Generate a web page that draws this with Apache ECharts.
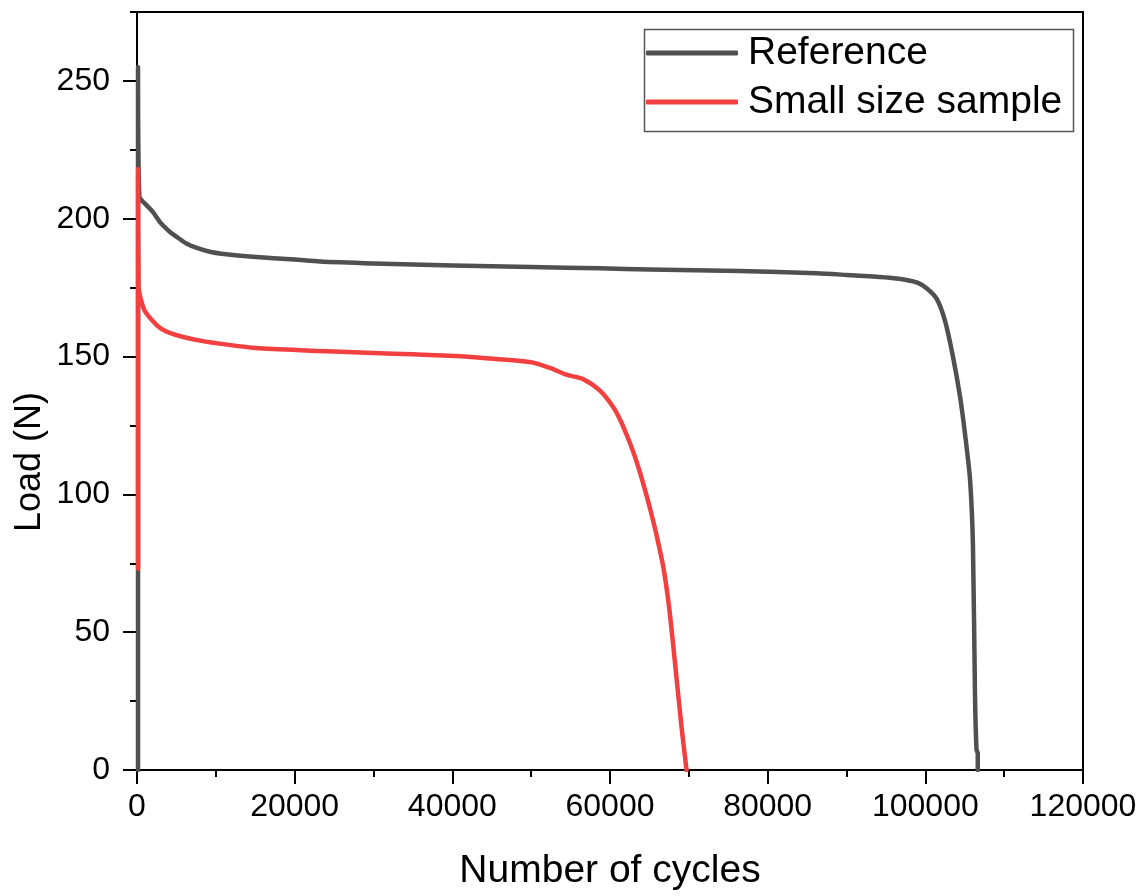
<!DOCTYPE html>
<html>
<head>
<meta charset="utf-8">
<script src="https://cdn.jsdelivr.net/npm/echarts@6/dist/echarts.min.js"></script>
<style>html,body{margin:0;padding:0;background:#fff;overflow:hidden;}#c{width:1144px;height:896px;}</style>
</head>
<body>
<div id="c"></div>
<script>
var FONT = 'Arial, "Liberation Sans", sans-serif';
var seriesNames = ['Reference', 'Small size sample'];
var xTicks = [0, 20000, 40000, 60000, 80000, 100000, 120000];
var yTicks = [0, 50, 100, 150, 200, 250];
var yMinorTicks = [25, 75, 125, 175, 225, 275];

var refCycles = [130, 130, 300, 1000, 2030, 3000, 4150, 5000, 6270, 7500, 9220, 11000, 14690, 20000, 23190, 30000, 40000, 50000, 58700, 65000, 76500, 86200, 90000, 93400, 96000, 97600, 99000, 100160, 101430, 102490, 103500, 104400, 105030, 105670, 106040, 106300, 106490, 106650, 106650];
var refLoad =   [0, 255, 208, 205.5, 202.4, 198.5, 195.3, 193.5, 191, 189.5, 188, 187.2, 186.2, 185.2, 184.5, 183.8, 183, 182.5, 182, 181.6, 181, 180.2, 179.6, 179, 178.4, 177.8, 176.8, 174.8, 171, 163, 150, 135.5, 122, 105.4, 81.3, 27, 7.5, 6, 0];

var smallCycles = [140, 140, 200, 560, 1000, 2030, 3000, 4150, 6000, 8380, 11000, 14720, 20680, 25000, 30000, 35000, 40530, 46000, 50250, 52790, 54480, 56590, 58700, 60400, 61300, 62200, 63000, 63800, 64500, 65200, 66000, 66800, 67500, 68230, 69080, 69710];
var smallLoad =   [73, 218, 175, 170, 166.5, 162.8, 160.2, 158.6, 157, 155.6, 154.5, 153.2, 152.3, 151.8, 151.3, 150.8, 150.2, 149, 147.8, 145.4, 143.4, 141.8, 137.7, 131.7, 127, 121, 115, 108, 101, 93.5, 84, 73, 59, 39.3, 15.4, 0];

function pairs(xs, ys) { return xs.map(function (x, i) { return [x, ys[i]]; }); }

var chart = echarts.init(document.getElementById('c'), null, { width: 1144, height: 896 });
var axisLineStyle = { color: '#000', width: 2 };
chart.setOption({
  animation: false,
  backgroundColor: '#fff',
  textStyle: { fontFamily: FONT },
  grid: { left: 137, width: 946, top: 12, height: 764, containLabel: false },
  xAxis: [{
    type: 'value', min: 0, max: 120000, interval: 20000, position: 'bottom',
    name: 'Number of cycles', nameLocation: 'middle', nameGap: 82,
    nameTextStyle: { fontSize: 39, fontFamily: FONT, color: '#000' },
    axisLine: { show: true, onZero: false, lineStyle: axisLineStyle },
    axisTick: { show: true, inside: false, length: 14, lineStyle: { color: '#000', width: 2 }, customValues: xTicks },
    minorTick: { show: true, splitNumber: 2, length: 7, lineStyle: { color: '#000', width: 2 } },
    axisLabel: { fontSize: 32, fontFamily: FONT, color: '#000', margin: 21, customValues: xTicks,
      formatter: function (v) { return String(v); } },
    splitLine: { show: false }
  }, {
    type: 'value', min: 0, max: 120000, position: 'top',
    axisLine: { show: true, onZero: false, lineStyle: axisLineStyle },
    axisTick: { show: false }, axisLabel: { show: false }, splitLine: { show: false }
  }],
  yAxis: [{
    type: 'value', min: 0, max: 275, interval: 50, position: 'left',
    axisLine: { show: true, onZero: false, lineStyle: axisLineStyle },
    axisTick: { show: true, length: 14, lineStyle: { color: '#000', width: 2 }, customValues: yTicks },
    axisLabel: { fontSize: 32, fontFamily: FONT, color: '#000', margin: 27, customValues: yTicks,
      formatter: function (v) { return String(v); } },
    splitLine: { show: false }
  }, {
    type: 'value', min: 0, max: 275, position: 'left',
    axisLine: { show: false },
    axisTick: { show: true, length: 7, lineStyle: { color: '#000', width: 2 }, customValues: yMinorTicks },
    axisLabel: { show: false }, splitLine: { show: false }
  }, {
    type: 'value', min: 0, max: 275, position: 'right',
    axisLine: { show: true, onZero: false, lineStyle: axisLineStyle },
    axisTick: { show: false }, axisLabel: { show: false }, splitLine: { show: false }
  }],
  legend: {
    orient: 'vertical', left: 646, top: 33, padding: 0,
    icon: 'roundRect', itemWidth: 92, itemHeight: 5, itemGap: 9,
    textStyle: { fontSize: 39, fontFamily: FONT, color: '#000', lineHeight: 40, padding: [0, 0, 0, 5] },
    data: seriesNames
  },
  graphic: [{
    type: 'rect', left: 642, top: 27, z: 100, silent: true,
    shape: { width: 429, height: 102 },
    style: { fill: 'none', stroke: '#555', lineWidth: 1.5 }
  }, {
    type: 'text', x: 30, y: 462, rotation: Math.PI / 2, silent: true,
    style: { text: 'Load (N)', font: '36px ' + FONT, fill: '#000', textAlign: 'center', textVerticalAlign: 'middle' }
  }],
  series: [{
    name: seriesNames[0], type: 'line', xAxisIndex: 0, yAxisIndex: 0,
    data: pairs(refCycles, refLoad), showSymbol: false, symbol: 'none', smooth: 0.25,
    lineStyle: { color: '#505050', width: 4.5, cap: 'round', join: 'round' },
    itemStyle: { color: '#505050' }
  }, {
    name: seriesNames[1], type: 'line', xAxisIndex: 0, yAxisIndex: 0,
    data: pairs(smallCycles, smallLoad), showSymbol: false, symbol: 'none', smooth: 0.25,
    lineStyle: { color: '#f23f3f', width: 4.5, cap: 'round', join: 'round' },
    itemStyle: { color: '#f23f3f' }
  }]
});
</script>
</body>
</html>
